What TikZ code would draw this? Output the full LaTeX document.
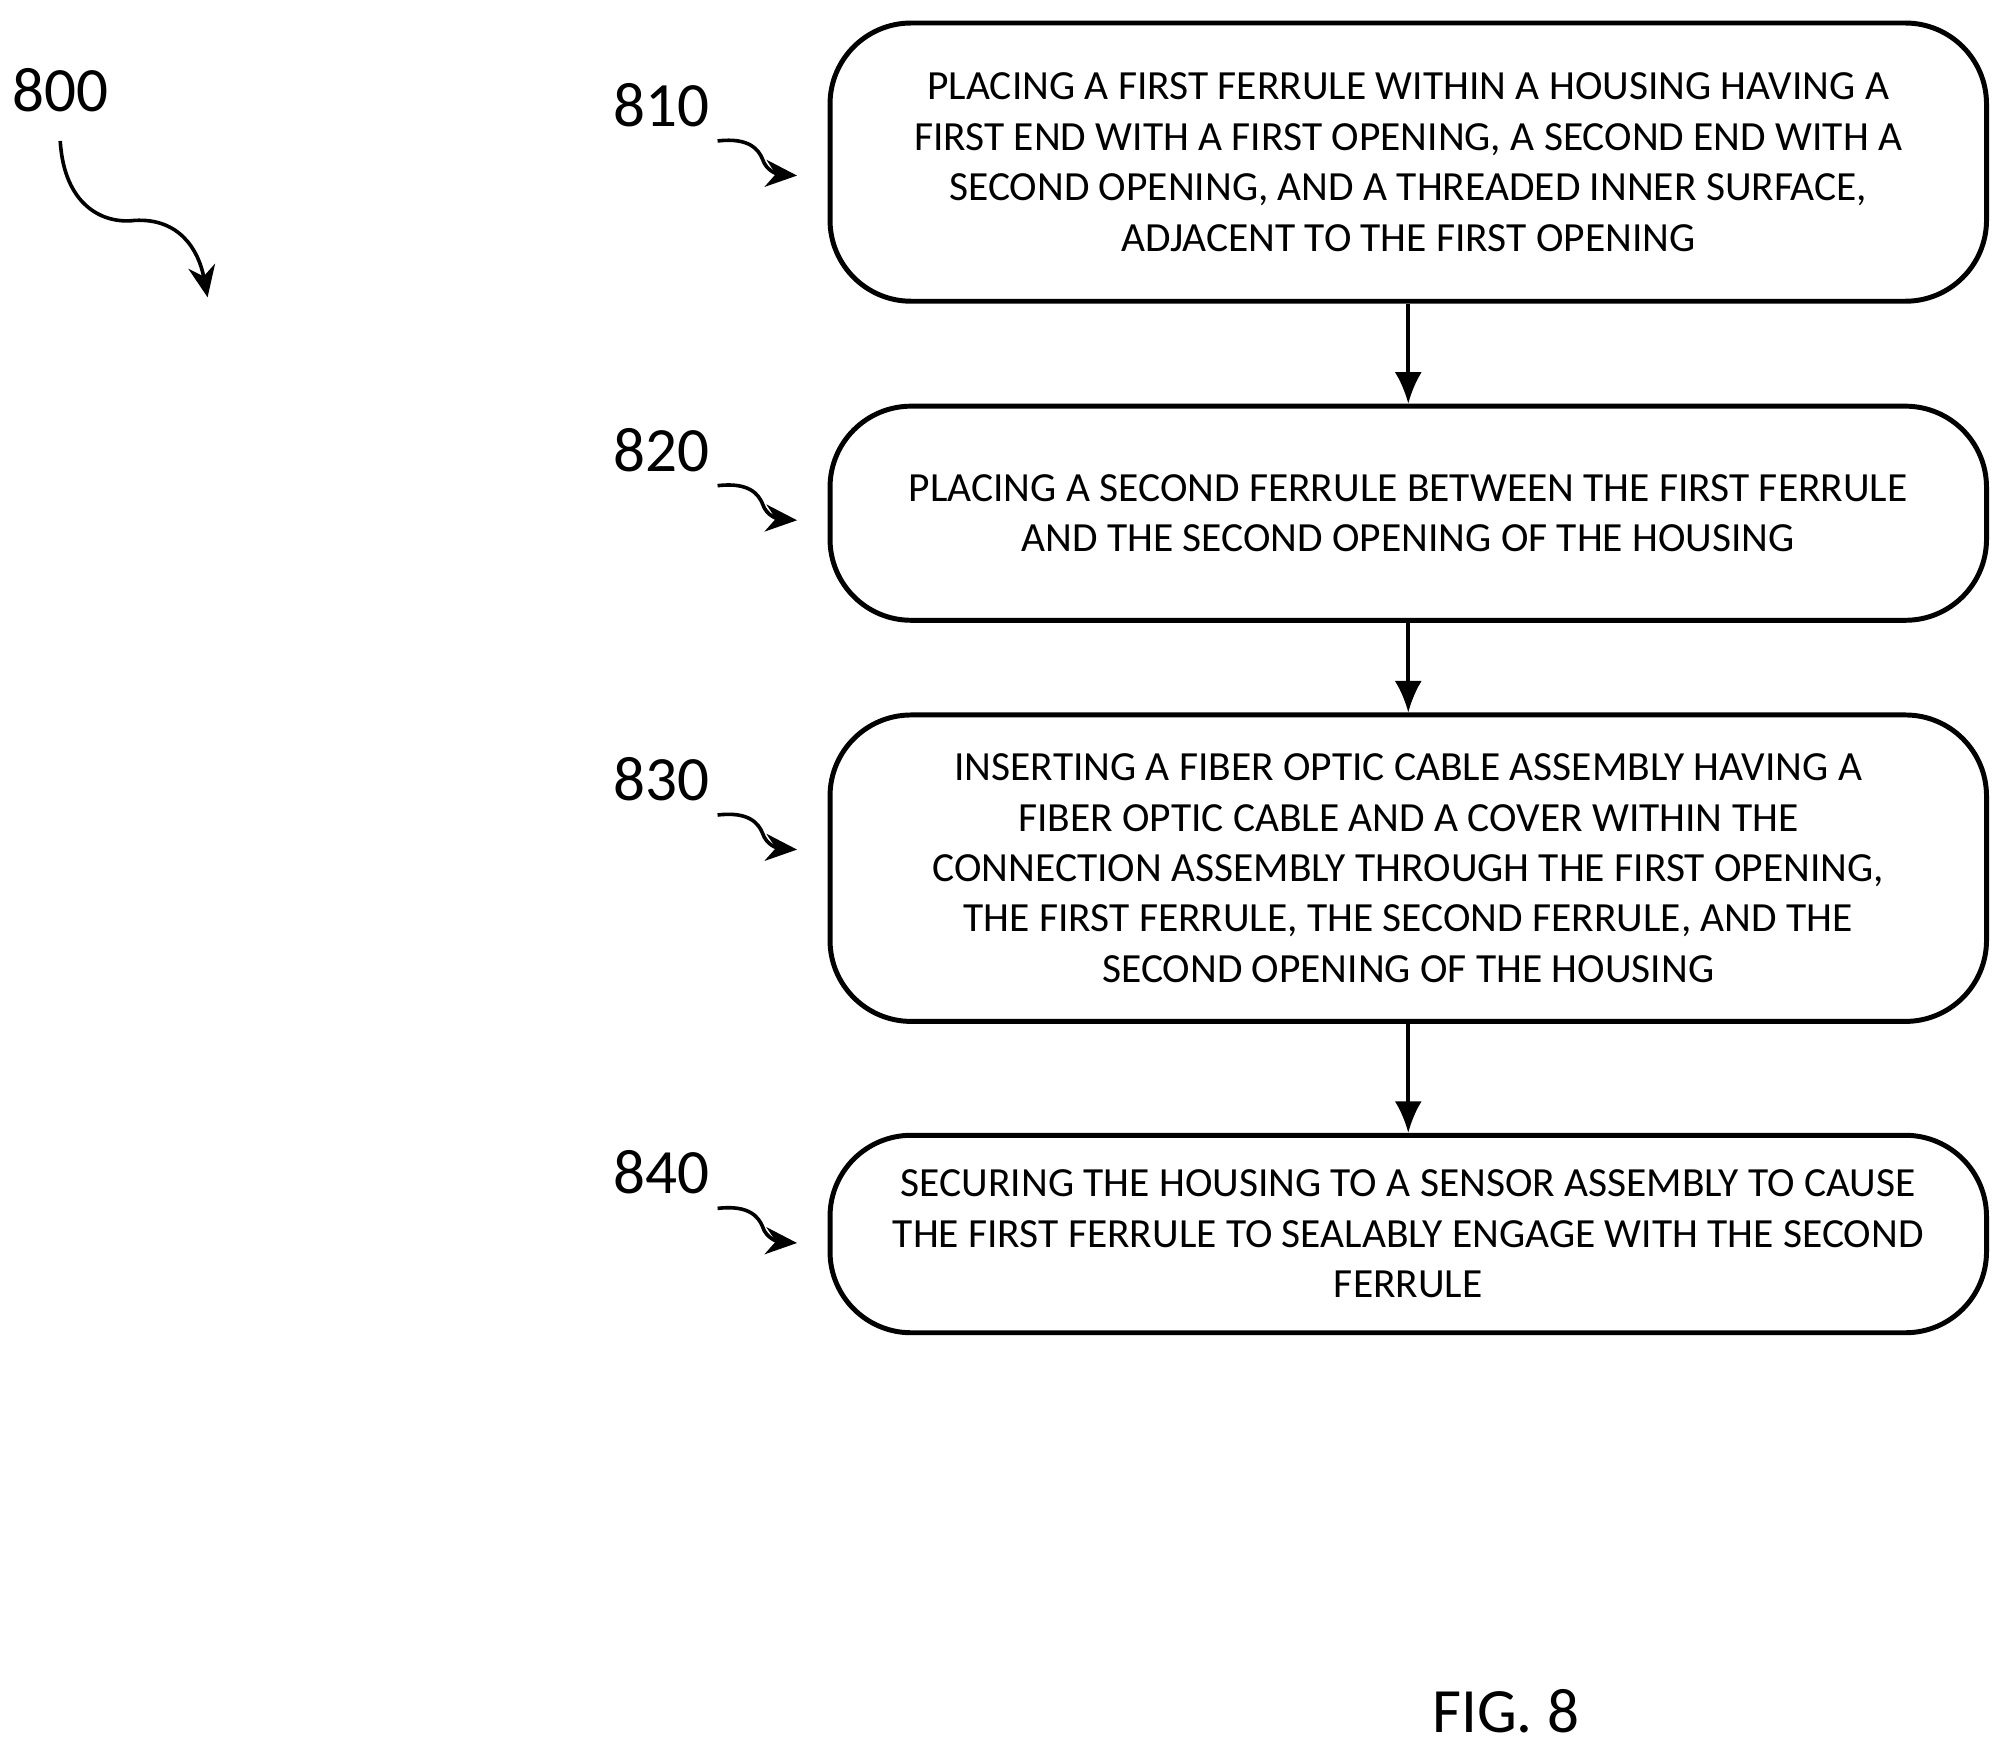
\documentclass[tikz,border=0pt]{standalone}
\usepackage{fontspec}
\setmainfont{Carlito}
\usetikzlibrary{arrows.meta,positioning}
\begin{document}
\begin{tikzpicture}[x=0.01cm,y=-0.01cm]
  \tikzset{stepbox/.style = {shape=rectangle,draw,line width=1.1pt,rounded corners=18pt,minimum width=9.02cm,align=center,font=\fontsize{9.2}{11.2}\selectfont}}
  \tikzset{edge/.style = {-{Latex[length=7pt,width=6pt]},line width=0.8pt}}
  \tikzset{lbl/.style = {font=\fontsize{14}{16}\selectfont}}
  \tikzset{curl/.style = {-{Stealth[length=7pt,width=6pt]},line width=0.8pt}}
  \useasboundingbox (0,0) rectangle (1560,1359);

	\node[stepbox,minimum height=2.17cm] (s810) at (1099,126.5) {PLACING A FIRST FERRULE WITHIN A HOUSING HAVING A\\FIRST END WITH A FIRST OPENING, A SECOND END WITH A\\SECOND OPENING, AND A THREADED INNER SURFACE,\\ADJACENT TO THE FIRST OPENING};
	\node[stepbox,minimum height=1.67cm] (s820) at (1099,400.5) {PLACING A SECOND FERRULE BETWEEN THE FIRST FERRULE\\AND THE SECOND OPENING OF THE HOUSING};
	\node[stepbox,minimum height=2.39cm] (s830) at (1099,677.5) {INSERTING A FIBER OPTIC CABLE ASSEMBLY HAVING A\\FIBER OPTIC CABLE AND A COVER WITHIN THE\\CONNECTION ASSEMBLY THROUGH THE FIRST OPENING,\\THE FIRST FERRULE, THE SECOND FERRULE, AND THE\\SECOND OPENING OF THE HOUSING};
	\node[stepbox,minimum height=1.54cm] (s840) at (1099,963) {SECURING THE HOUSING TO A SENSOR ASSEMBLY TO CAUSE\\THE FIRST FERRULE TO SEALABLY ENGAGE WITH THE SECOND\\FERRULE};

    \foreach \from/\to in {s810/s820, s820/s830, s830/s840}
    \draw[edge] (\from) -- (\to);

	\node[lbl] (n800) at (47,70) {800};
	\coordinate (e800) at (162,232);
	\draw[curl] (47,110) .. controls (50,160) and (80,175) .. (105,172) .. controls (140,170) and (155,195) .. (e800);

    \foreach \num/\y in {810/82, 820/351, 830/608, 840/915}{
	  \node[lbl] (n\num) at (516,\y) {\num};
	  \coordinate (t\num) at (622,\y+55);
	  \draw[curl] (560,\y+28) .. controls (585,\y+25) and (592,\y+35) .. (595,\y+42) .. controls (598,\y+52) and (608,\y+54) .. (t\num);
    }

	\node[lbl] (fig) at (1175,1335) {FIG. 8};
\end{tikzpicture}
\end{document}
